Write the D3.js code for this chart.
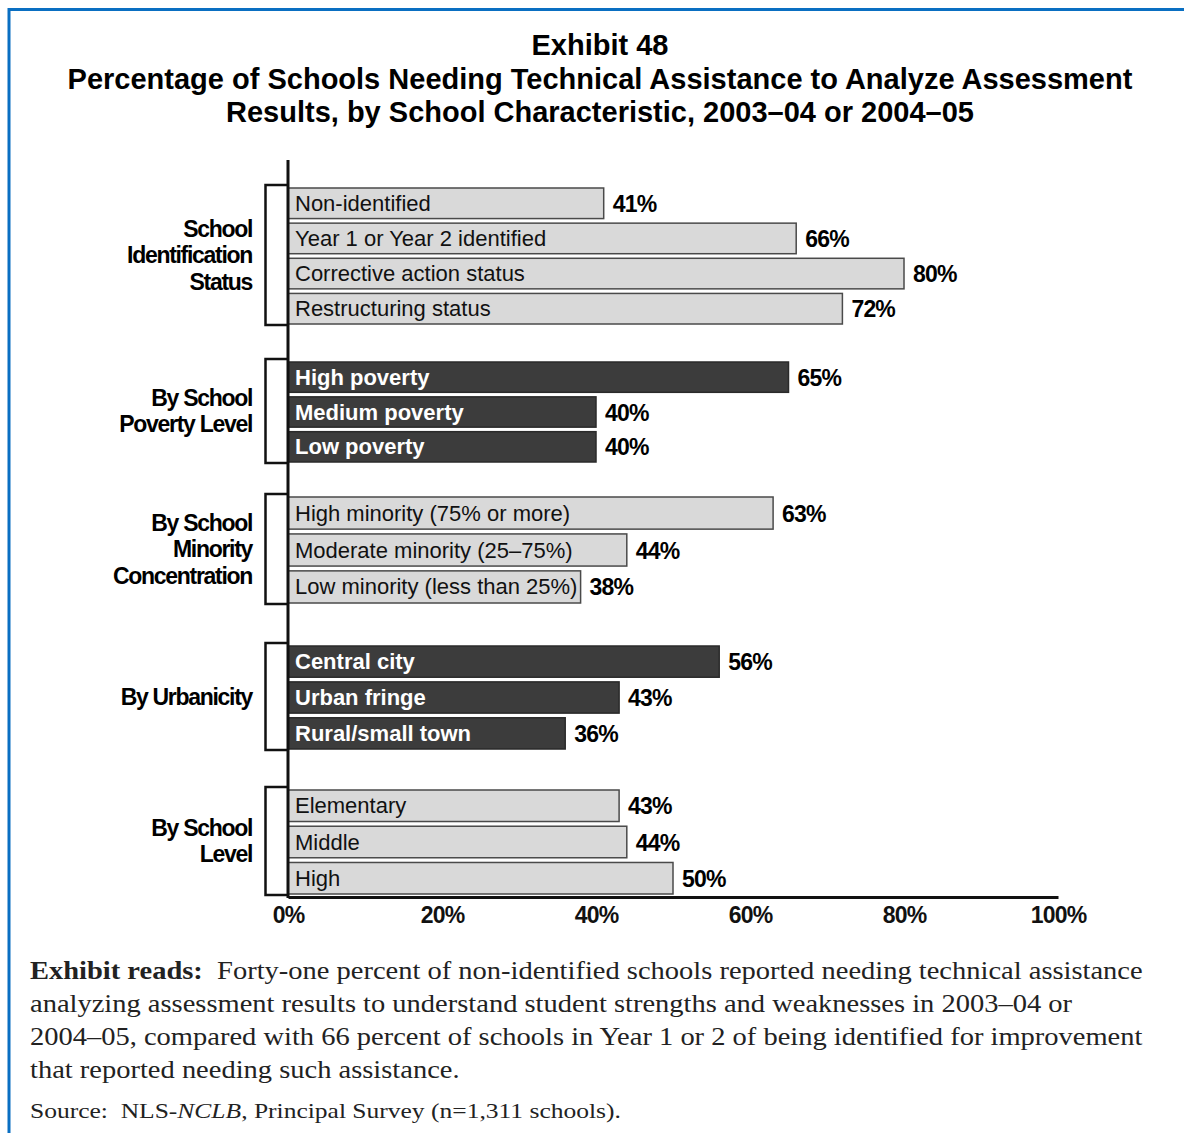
<!DOCTYPE html>
<html>
<head>
<meta charset="utf-8">
<script src="https://cdn.jsdelivr.net/npm/d3@7"></script>
<style>
  body { margin: 0; background: #fff; }
  svg { display: block; }
</style>
</head>
<body>
<svg id="chart" width="1184" height="1133"></svg>
<script>
"use strict";

const groupNames = [
    ["School", "Identification", "Status"],
    ["By School", "Poverty Level"],
    ["By School", "Minority", "Concentration"],
    ["By Urbanicity"],
    ["By School", "Level"]
];

const idLabels = ["Non-identified", "Year 1 or Year 2 identified", "Corrective action status", "Restructuring status"];
const idValues = [41, 66, 80, 72];

const povertyLabels = ["High poverty", "Medium poverty", "Low poverty"];
const povertyValues = [65, 40, 40];

const minorityLabels = ["High minority (75% or more)", "Moderate minority (25\u201375%)", "Low minority (less than 25%)"];
const minorityValues = [63, 44, 38];

const urbanLabels = ["Central city", "Urban fringe", "Rural/small town"];
const urbanValues = [56, 43, 36];

const levelLabels = ["Elementary", "Middle", "High"];
const levelValues = [43, 44, 50];

const xTicks = [0, 20, 40, 60, 80, 100];

// layout for each group: vertical range of bars, and whether bars are dark
const groups = [
    {labels: idLabels, values: idValues, dark: false, y0: 188, y1: 324},
    {labels: povertyLabels, values: povertyValues, dark: true, y0: 362, y1: 462},
    {labels: minorityLabels, values: minorityValues, dark: false, y0: 497, y1: 603},
    {labels: urbanLabels, values: urbanValues, dark: true, y0: 646, y1: 749},
    {labels: levelLabels, values: levelValues, dark: false, y0: 790, y1: 894}
];

const svg = d3.select("#chart");
const sans = "'Liberation Sans', Arial, sans-serif";
const serif = "'Liberation Serif', 'Times New Roman', serif";

// blue frame (left + top)
svg.append("path")
    .attr("d", "M9,1133 V9.5 H1184")
    .attr("fill", "none")
    .attr("stroke", "#0a6fc2")
    .attr("stroke-width", 3);

// title
const titleLines = ["Exhibit 48",
    "Percentage of Schools Needing Technical Assistance to Analyze Assessment",
    "Results, by School Characteristic, 2003\u201304 or 2004\u201305"];
svg.append("g").selectAll("text")
    .data(titleLines)
    .enter().append("text")
    .attr("x", 600)
    .attr("y", (d, i) => 55 + i * 33.5)
    .attr("text-anchor", "middle")
    .attr("font-family", sans)
    .attr("font-weight", "bold")
    .attr("font-size", 29)
    .text(d => d);

const x = d3.scaleLinear().domain([0, 100]).range([288, 1058]);
const axisY = 897;

// bars per group
groups.forEach(function(g, gi) {
    const y = d3.scaleBand()
        .domain(g.labels)
        .range([g.y0, g.y1])
        .paddingInner(0.13);

    const rows = g.labels.map((l, i) => ({label: l, value: g.values[i]}));
    const gg = svg.append("g");

    gg.selectAll("rect")
        .data(rows)
        .enter().append("rect")
        .attr("x", x(0))
        .attr("y", d => y(d.label))
        .attr("width", d => x(d.value) - x(0))
        .attr("height", y.bandwidth())
        .attr("fill", g.dark ? "#3c3c3c" : "#d9d9d9")
        .attr("stroke", g.dark ? "#2a2a2a" : "#4a4a4a")
        .attr("stroke-width", 1.5);

    gg.selectAll("text.cat")
        .data(rows)
        .enter().append("text")
        .attr("class", "cat")
        .attr("x", x(0) + 7)
        .attr("y", d => y(d.label) + y.bandwidth() / 2 + 7.5)
        .attr("font-family", sans)
        .attr("font-size", 22)
        .attr("font-weight", g.dark ? "bold" : "normal")
        .attr("fill", g.dark ? "#ffffff" : "#111")
        .text(d => d.label);

    gg.selectAll("text.val")
        .data(rows)
        .enter().append("text")
        .attr("class", "val")
        .attr("x", d => x(d.value) + 9)
        .attr("y", d => y(d.label) + y.bandwidth() / 2 + 8.5)
        .attr("font-family", sans)
        .attr("font-size", 23)
        .attr("font-weight", "bold")
        .attr("letter-spacing", -0.8)
        .text(d => d.value + "%");

    // bracket
    const bTop = g.y0 - 3, bBot = g.y1 + 1;
    gg.append("path")
        .attr("d", `M${x(0)},${bTop} H265.5 V${bBot} H${x(0)}`)
        .attr("fill", "none")
        .attr("stroke", "#111")
        .attr("stroke-width", 2.5);

    // group label, right aligned
    const lines = groupNames[gi];
    const mid = (bTop + bBot) / 2;
    const lh = 26.5;
    gg.selectAll("text.grp")
        .data(lines)
        .enter().append("text")
        .attr("class", "grp")
        .attr("x", 252)
        .attr("y", (d, i) => mid + (i - (lines.length - 1) / 2) * lh + 8)
        .attr("text-anchor", "end")
        .attr("font-family", sans)
        .attr("font-size", 23)
        .attr("font-weight", "bold")
        .attr("letter-spacing", -1.3)
        .text(d => d);
});

// vertical axis line
svg.append("line")
    .attr("x1", x(0)).attr("x2", x(0))
    .attr("y1", 160).attr("y2", axisY + 1)
    .attr("stroke", "#111")
    .attr("stroke-width", 3);

// x axis
const xAxis = d3.axisBottom(x)
    .tickValues(xTicks)
    .tickSize(0)
    .tickPadding(10)
    .tickFormat(d => d + "%");

const ax = svg.append("g")
    .attr("transform", `translate(0,${axisY})`)
    .call(xAxis);
ax.select(".domain").attr("stroke", "#111").attr("stroke-width", 3);
ax.selectAll("text")
    .attr("font-family", sans)
    .attr("font-size", 23)
    .attr("font-weight", "bold")
    .attr("letter-spacing", -0.8)
    .attr("fill", "#111");

// footer notes (Garamond-like width via horizontal scale)
const note = svg.append("g")
    .attr("transform", "translate(30,0) scale(1.14,1)")
    .append("text")
    .attr("font-family", serif)
    .attr("font-size", 25)
    .attr("fill", "#222");
const noteLines = [
    "Forty-one percent of non-identified schools reported needing technical assistance",
    "analyzing assessment results to understand student strengths and weaknesses in 2003\u201304 or",
    "2004\u201305, compared with 66 percent of schools in Year 1 or 2 of being identified for improvement",
    "that reported needing such assistance."
];
noteLines.forEach(function(line, i) {
    const t = note.append("tspan").attr("x", 0).attr("y", 979 + i * 33);
    if (i === 0) {
        t.append("tspan").attr("font-weight", "bold").text("Exhibit reads:");
        t.append("tspan").text("\u00a0 " + line);
    } else {
        t.text(line);
    }
});

const src = svg.append("g")
    .attr("transform", "translate(30,0) scale(1.16,1)")
    .append("text")
    .attr("x", 0)
    .attr("y", 1118)
    .attr("font-family", serif)
    .attr("font-size", 22)
    .attr("fill", "#222");
src.append("tspan").text("Source:\u00a0 NLS-");
src.append("tspan").attr("font-style", "italic").text("NCLB");
src.append("tspan").text(", Principal Survey (n=1,311 schools).");
</script>
</body>
</html>
